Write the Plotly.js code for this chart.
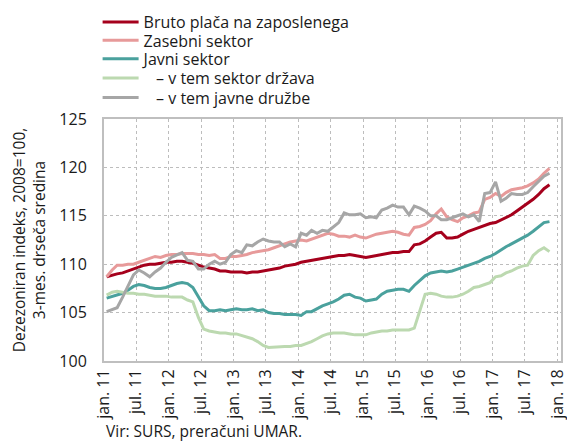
<!DOCTYPE html>
<html>
<head>
<meta charset="utf-8">
<script src="https://cdn.plot.ly/plotly-3.0.1.min.js"></script>
<style>html,body{margin:0;padding:0;background:#fff;}#chart{width:567px;height:441px;}</style>
</head>
<body>
<div id="chart"></div>
<script>
// Monthly data, Jan 2011 - Nov 2017 (3-month moving average, index 2008=100)
const startYear = 2011;
const nMonths = 83;

const bruto = [108.7,108.9,109.0,109.1,109.3,109.5,109.7,109.9,110.0,110.0,110.1,110.2,
  110.2,110.3,110.3,110.2,110.1,109.9,109.7,109.6,109.5,109.3,109.3,109.2,
  109.2,109.2,109.1,109.2,109.2,109.3,109.4,109.5,109.6,109.8,109.9,110.0,
  110.2,110.3,110.4,110.5,110.6,110.7,110.8,110.9,110.9,111.0,110.9,110.8,
  110.7,110.8,110.9,111.0,111.1,111.2,111.2,111.3,111.3,112.0,112.1,112.4,
  112.8,113.2,113.3,112.7,112.7,112.8,113.1,113.4,113.6,113.8,114.0,114.2,
  114.3,114.6,114.8,115.1,115.5,115.9,116.3,116.7,117.2,117.8,118.2];

const zasebni = [108.7,109.4,109.9,109.9,110.0,110.0,110.2,110.4,110.6,110.8,110.7,110.9,
  111.0,111.0,111.1,111.1,111.1,111.0,111.0,110.9,111.0,110.6,110.6,110.8,
  110.8,110.9,111.0,111.2,111.3,111.4,111.5,111.7,111.9,112.1,112.3,112.4,
  112.5,112.4,112.6,112.8,113.0,113.2,113.1,112.9,112.9,112.8,113.0,112.8,
  112.7,112.9,113.1,113.2,113.3,113.4,113.3,113.1,113.0,113.8,113.9,114.1,
  114.5,115.2,115.7,114.9,114.6,114.4,114.8,115.0,115.3,115.4,116.7,116.9,
  117.3,117.0,117.4,117.7,117.8,117.9,118.1,118.4,118.8,119.4,119.9];

const javni = [106.5,106.7,106.8,107.0,107.3,107.7,107.9,107.8,107.6,107.5,107.5,107.6,
  107.8,108.0,108.1,108.0,107.6,106.7,105.7,105.2,105.2,105.3,105.2,105.3,
  105.4,105.3,105.3,105.4,105.2,105.3,105.0,104.9,104.9,104.8,104.8,104.8,
  104.7,105.1,105.1,105.4,105.7,105.9,106.1,106.4,106.8,106.9,106.6,106.5,
  106.2,106.3,106.4,106.9,107.2,107.3,107.4,107.4,107.2,107.8,108.3,108.8,
  109.1,109.2,109.3,109.2,109.3,109.5,109.7,109.9,110.1,110.3,110.6,110.8,
  111.1,111.5,111.8,112.1,112.4,112.7,113.0,113.4,113.9,114.3,114.4];

const drzava = [106.8,107.1,107.2,107.1,107.0,107.0,106.9,106.9,106.8,106.7,106.7,106.7,
  106.6,106.6,106.6,106.3,106.1,104.5,103.3,103.1,103.0,102.9,102.9,102.8,
  102.8,102.6,102.5,102.3,102.0,101.6,101.4,101.45,101.5,101.5,101.5,101.6,
  101.6,101.8,102.0,102.3,102.6,102.8,102.9,102.9,102.9,102.8,102.7,102.7,
  102.7,102.9,103.0,103.1,103.1,103.2,103.2,103.2,103.2,103.4,105.3,106.9,
  107.0,106.9,106.7,106.6,106.6,106.7,106.9,107.2,107.6,107.7,107.9,108.1,
  108.7,108.8,109.1,109.3,109.6,109.8,109.9,110.9,111.4,111.7,111.3];

const druzbe = [105.1,105.3,105.5,106.6,107.8,108.9,109.4,109.1,108.7,109.2,109.6,110.2,
  110.7,111.0,111.2,110.4,110.3,109.5,109.5,110.0,110.3,110.0,110.2,111.0,
  111.4,111.2,112.0,111.9,112.3,112.6,112.4,112.3,112.3,111.8,112.1,111.8,
  113.2,113.0,113.5,113.2,113.5,113.4,113.8,114.3,115.3,115.1,115.1,115.2,
  114.8,114.9,114.8,115.6,115.8,116.1,115.9,115.9,115.1,116.0,115.8,115.5,
  115.0,115.0,114.6,114.6,114.8,115.0,115.2,114.9,115.1,114.4,117.3,117.4,
  118.5,116.5,116.8,117.3,117.2,117.2,117.4,118.0,118.6,119.1,119.4];

const seriesNames = ['Bruto plača na zaposlenega', 'Zasebni sektor', 'Javni sektor',
  '\u00a0\u00a0\u00a0– v tem sektor država', '\u00a0\u00a0\u00a0– v tem javne družbe'];

const tickDates = ['2011-01-01','2011-07-01','2012-01-01','2012-07-01','2013-01-01','2013-07-01',
  '2014-01-01','2014-07-01','2015-01-01','2015-07-01','2016-01-01','2016-07-01',
  '2017-01-01','2017-07-01','2018-01-01'];
const tickLabels = ['jan. 11','jul. 11','jan. 12','jul. 12','jan. 13','jul. 13','jan. 14','jul. 14',
  'jan. 15','jul. 15','jan. 16','jul. 16','jan. 17','jul. 17','jan. 18'];

// x positions: middle of each month
const months = [];
for (let i = 0; i < nMonths; i++) {
  const y = startYear + Math.floor(i / 12);
  const m = (i % 12) + 1;
  months.push(y + '-' + String(m).padStart(2, '0') + '-16');
}

const colors = ['#a5001c', '#e79a9a', '#4aa19d', '#bcd9b0', '#a6a6a6'];
const allSeries = [bruto, zasebni, javni, drzava, druzbe];
const legendIds = ['legend', 'legend2', 'legend3', 'legend4', 'legend5'];

const traces = allSeries.map((s, i) => ({
  x: months, y: s, type: 'scatter', mode: 'lines', name: seriesNames[i],
  legend: legendIds[i],
  line: {color: colors[i], width: 3}
}));

const font = "'Open Sans', 'Noto Sans', sans-serif";

const H = 441;
const plotTop = 119.4, plotH = 241.9;
const legendTops = [5, 23.4, 41.8, 61.2, 80.6];

const layout = {
  width: 567, height: H,
  margin: {l: 103.5, r: 6.3, t: 119.4, b: 79.7},
  paper_bgcolor: '#fff', plot_bgcolor: '#fff',
  font: {family: font, size: 16, color: '#1a1a1a'},
  showlegend: true,
  xaxis: {
    type: 'date', range: ['2011-01-01', '2018-01-20'],
    tickmode: 'array', tickvals: tickDates, ticktext: tickLabels, tickangle: -90,
    showgrid: true, gridcolor: '#bdbdbd', griddash: 'dot', gridwidth: 1,
    showline: true, linecolor: '#bfbfbf', linewidth: 2, mirror: true,
    ticks: '', zeroline: false, tickfont: {size: 16}, ticklabeloverflow: 'allow'
  },
  yaxis: {
    range: [100, 125], tickvals: [100, 105, 110, 115, 120, 125],
    showgrid: true, gridcolor: '#bdbdbd', griddash: 'dot', gridwidth: 1,
    showline: true, linecolor: '#bfbfbf', linewidth: 2, mirror: true,
    ticks: '', zeroline: false, tickfont: {size: 16}, ticklabelstandoff: 12,
    title: {text: 'Dezezoniran indeks, 2008=100,<br>3-mes. drseča sredina', font: {size: 15.5}, standoff: 10}
  },
  annotations: [{
    text: 'Vir: SURS, preračuni UMAR.', xref: 'paper', yref: 'paper', x: 0, y: (plotTop + plotH - 431) / plotH,
    xanchor: 'left', yanchor: 'middle', showarrow: false, font: {size: 15.5, color: '#1a1a1a'}
  }]
};

legendIds.forEach((id, i) => {
  layout[id] = {
    x: -0.014, yref: 'container', y: 1 - legendTops[i] / H, xanchor: 'left', yanchor: 'top',
    bgcolor: 'rgba(0,0,0,0)', itemwidth: 36,
    font: {family: font, size: 16, color: '#1a1a1a'}
  };
});

Plotly.newPlot('chart', traces, layout, {displayModeBar: false, staticPlot: true});
</script>
</body>
</html>
